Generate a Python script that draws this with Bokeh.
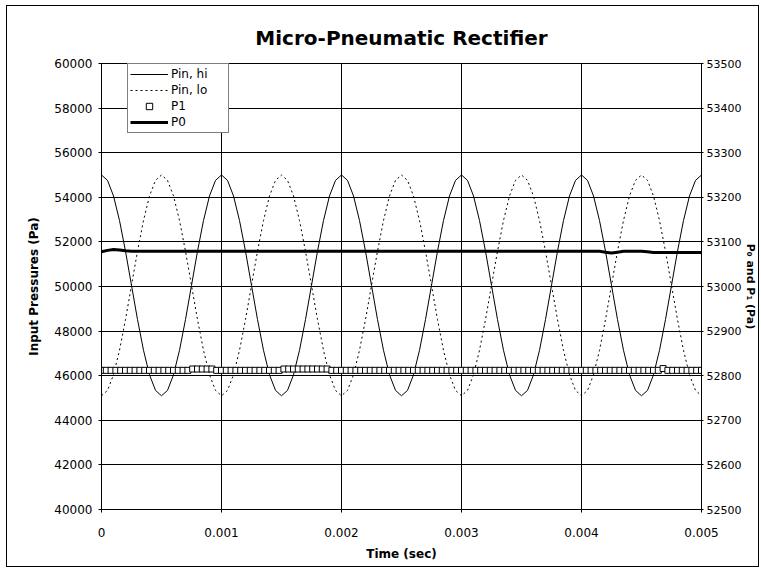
from bokeh.plotting import figure
from bokeh.models import (Range1d, LinearAxis, FixedTicker, CustomJSTickFormatter,
                          Legend, LegendItem, ColumnDataSource)
from bokeh.embed import file_html
from bokeh.resources import INLINE

# ---------------- data ----------------
time_hi = [i * 0.00005 for i in range(101)]
pin_hi = [55000, 54760, 54060, 52960, 51580, 50050, 48520, 47140, 46040, 45340,
          45100, 45340, 46040, 47140, 48520, 50050, 51580, 52960, 54060, 54760,
          55000, 54760, 54060, 52960, 51580, 50050, 48520, 47140, 46040, 45340,
          45100, 45340, 46040, 47140, 48520, 50050, 51580, 52960, 54060, 54760,
          55000, 54760, 54060, 52960, 51580, 50050, 48520, 47140, 46040, 45340,
          45100, 45340, 46040, 47140, 48520, 50050, 51580, 52960, 54060, 54760,
          55000, 54760, 54060, 52960, 51580, 50050, 48520, 47140, 46040, 45340,
          45100, 45340, 46040, 47140, 48520, 50050, 51580, 52960, 54060, 54760,
          55000, 54760, 54060, 52960, 51580, 50050, 48520, 47140, 46040, 45340,
          45100, 45340, 46040, 47140, 48520, 50050, 51580, 52960, 54060, 54760,
          55000]
pin_lo = [45100, 45340, 46040, 47140, 48520, 50050, 51580, 52960, 54060, 54760,
          55000, 54760, 54060, 52960, 51580, 50050, 48520, 47140, 46040, 45340,
          45100, 45340, 46040, 47140, 48520, 50050, 51580, 52960, 54060, 54760,
          55000, 54760, 54060, 52960, 51580, 50050, 48520, 47140, 46040, 45340,
          45100, 45340, 46040, 47140, 48520, 50050, 51580, 52960, 54060, 54760,
          55000, 54760, 54060, 52960, 51580, 50050, 48520, 47140, 46040, 45340,
          45100, 45340, 46040, 47140, 48520, 50050, 51580, 52960, 54060, 54760,
          55000, 54760, 54060, 52960, 51580, 50050, 48520, 47140, 46040, 45340,
          45100, 45340, 46040, 47140, 48520, 50050, 51580, 52960, 54060, 54760,
          55000, 54760, 54060, 52960, 51580, 50050, 48520, 47140, 46040, 45340,
          45100]
p0 = [53078, 53081, 53083, 53082, 53080, 53079, 53079, 53079, 53079, 53079,
      53079, 53079, 53079, 53079, 53079, 53079, 53079, 53079, 53079, 53079,
      53079, 53079, 53079, 53079, 53079, 53079, 53079, 53079, 53079, 53079,
      53079, 53079, 53079, 53079, 53079, 53079, 53079, 53079, 53079, 53079,
      53079, 53079, 53079, 53079, 53079, 53079, 53079, 53079, 53079, 53079,
      53079, 53079, 53079, 53079, 53079, 53079, 53079, 53079, 53079, 53079,
      53079, 53079, 53079, 53079, 53079, 53079, 53079, 53079, 53079, 53079,
      53079, 53079, 53079, 53079, 53079, 53079, 53079, 53079, 53079, 53079,
      53079, 53079, 53079, 53079, 53077, 53075, 53077, 53079, 53079, 53079,
      53079, 53078, 53076, 53076, 53076, 53076, 53076, 53076, 53076, 53076,
      53076]

time_p1 = [i * 0.00004 for i in range(126)]
p1 = [52812, 52812, 52812, 52812, 52812, 52812, 52812, 52812, 52812, 52812,
      52812, 52812, 52812, 52812, 52812, 52812, 52812, 52812, 52812, 52815,
      52815, 52815, 52815, 52815, 52812, 52812, 52812, 52812, 52812, 52812,
      52812, 52812, 52812, 52812, 52812, 52812, 52812, 52812, 52815, 52815,
      52815, 52815, 52815, 52815, 52815, 52815, 52815, 52815, 52812, 52812,
      52812, 52812, 52812, 52812, 52812, 52812, 52812, 52812, 52812, 52812,
      52812, 52812, 52812, 52812, 52812, 52812, 52812, 52812, 52812, 52812,
      52812, 52812, 52812, 52812, 52812, 52812, 52812, 52812, 52812, 52812,
      52812, 52812, 52812, 52812, 52812, 52812, 52812, 52812, 52812, 52812,
      52812, 52812, 52812, 52812, 52812, 52812, 52812, 52812, 52812, 52812,
      52812, 52812, 52812, 52812, 52812, 52812, 52812, 52812, 52812, 52812,
      52812, 52812, 52812, 52812, 52812, 52812, 52812, 52816, 52812, 52812,
      52812, 52812, 52812, 52812, 52812, 52812]

x_ticks = [0, 0.001, 0.002, 0.003, 0.004, 0.005]
left_ticks = [40000, 42000, 44000, 46000, 48000, 50000, 52000, 54000, 56000, 58000, 60000]
right_ticks = [52500, 52600, 52700, 52800, 52900, 53000, 53100, 53200, 53300, 53400, 53500]

FONT = "DejaVu Sans"

p = figure(width=755, height=564, output_backend="svg", toolbar_location=None,
           x_range=Range1d(0, 0.005), y_range=Range1d(40000, 60000),
           min_border_left=96, min_border_right=54, min_border_top=59, min_border_bottom=59,
           styles={"outline": "1px solid black", "outline-offset": "-2px",
                   "margin-left": "5px", "margin-top": "4px"})
p.border_fill_alpha = 0
p.background_fill_color = "white"
p.extra_y_ranges = {"right": Range1d(52500, 53500)}

p.title.text = "Micro-Pneumatic Rectifier"
p.title.align = "center"
p.title.text_font = FONT
p.title.text_font_size = "20px"
p.title.text_font_style = "bold"
p.title.text_color = "black"
p.title.standoff = 27

p.outline_line_color = "black"
p.outline_line_width = 1
p.xgrid.grid_line_color = "black"
p.ygrid.grid_line_color = "black"
p.xgrid.grid_line_width = 1
p.ygrid.grid_line_width = 1
p.xgrid.ticker = FixedTicker(ticks=x_ticks)
p.ygrid.ticker = FixedTicker(ticks=left_ticks)

def style_axis(ax, size="12px"):
    ax.axis_line_color = "black"
    ax.major_tick_line_color = "black"
    ax.major_tick_in = 3
    ax.major_tick_out = 3
    ax.minor_tick_line_color = None
    ax.major_label_text_font = FONT
    ax.major_label_text_font_size = size
    ax.major_label_text_color = "black"
    ax.axis_label_text_font = FONT
    ax.axis_label_text_font_size = size
    ax.axis_label_text_font_style = "bold"
    ax.axis_label_text_color = "black"

xa = p.xaxis[0]
xa.ticker = FixedTicker(ticks=x_ticks)
xa.formatter = CustomJSTickFormatter(code="return String(Math.round(tick*1000)/1000);")
xa.axis_label = "Time (sec)"
style_axis(xa)
xa.major_label_standoff = 15
xa.axis_label_standoff = 7

ya = p.yaxis[0]
ya.ticker = FixedTicker(ticks=left_ticks)
ya.axis_label = "Input Pressures (Pa)"
style_axis(ya)
ya.major_label_standoff = 6
ya.axis_label_standoff = 10

ra = LinearAxis(y_range_name="right", ticker=FixedTicker(ticks=right_ticks),
                axis_label="P\u2080 and P\u2081 (Pa)")
style_axis(ra, "11px")
ra.major_tick_out = 2
ra.major_label_standoff = 3
ra.axis_label_standoff = 0
p.add_layout(ra, "right")

src_hi = ColumnDataSource(dict(t=time_hi, hi=pin_hi, lo=pin_lo, p0=p0))
src_p1 = ColumnDataSource(dict(t=time_p1, p1=p1))

r_hi = p.line("t", "hi", source=src_hi, line_color="black", line_width=1)
r_lo = p.line("t", "lo", source=src_hi, line_color="black", line_width=1, line_dash="2 3")
r_p1 = p.scatter("t", "p1", source=src_p1, y_range_name="right", marker="square",
                 size=6, fill_color="white", line_color="black", line_width=1)
r_p0 = p.line("t", "p0", source=src_hi, y_range_name="right", line_color="black", line_width=3)

legend = Legend(items=[LegendItem(label="Pin, hi", renderers=[r_hi]),
                       LegendItem(label="Pin, lo", renderers=[r_lo]),
                       LegendItem(label="P1", renderers=[r_p1]),
                       LegendItem(label="P0", renderers=[r_p0])],
                location=(26, 376))
legend.label_text_font = FONT
legend.label_text_font_size = "12px"
legend.label_text_color = "black"
legend.glyph_width = 38
legend.glyph_height = 16
legend.label_height = 16
legend.label_width = 55
legend.label_standoff = 3
legend.spacing = 0
legend.padding = 2
legend.margin = 0
legend.border_line_color = "black"
legend.border_line_width = 1
legend.background_fill_color = "white"
legend.background_fill_alpha = 1
p.add_layout(legend, "center")

open("out.html", "w").write(file_html(p, INLINE))
